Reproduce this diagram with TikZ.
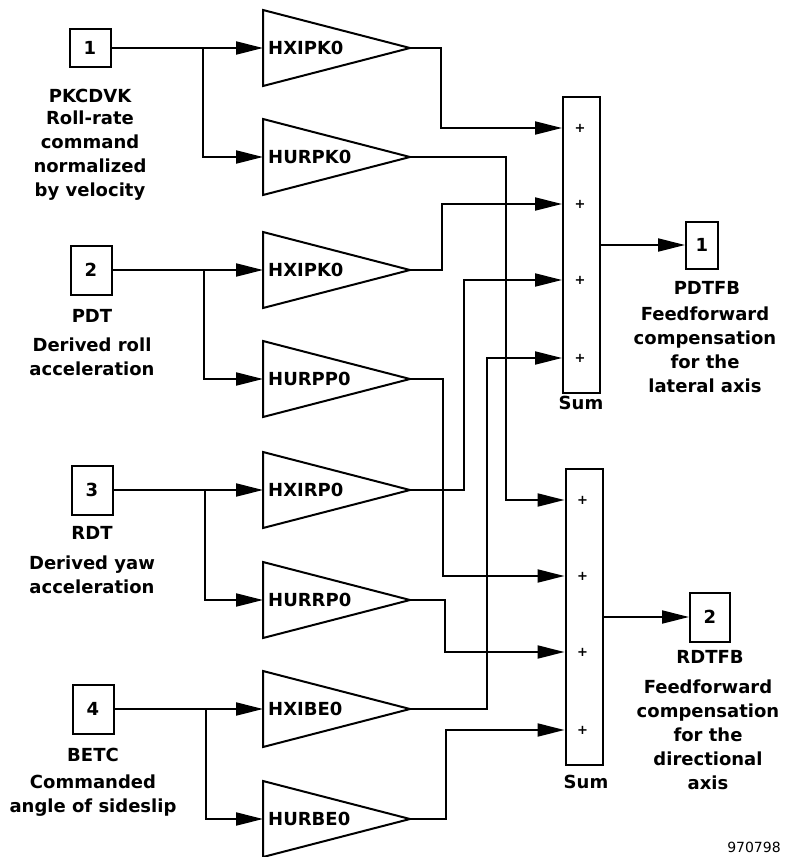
\documentclass[tikz,border=0pt]{standalone}
\usepackage{fontspec}
\setmainfont{DejaVu Sans}
\usetikzlibrary{positioning,arrows.meta}

\tikzset{
  wire/.style={line width=2pt},
  sig/.style={wire,-{Triangle[length=27pt,width=13pt]}},
  port/.style={draw,line width=2pt,inner sep=0pt,minimum width=41pt,minimum height=49pt,
    font=\fontsize{18}{20}\selectfont\bfseries},
  gain/.style={inner sep=0pt,outer sep=0pt,minimum width=147pt,minimum height=76pt,anchor=west},
  gaintext/.style={anchor=west,inner sep=0pt,font=\fontsize{18}{20}\selectfont\bfseries},
  sumbox/.style={draw,line width=2pt,inner sep=0pt,minimum width=37pt,minimum height=296pt},
  plus/.style={inner sep=0pt,font=\fontsize{13}{14}\selectfont\bfseries},
  portname/.style={inner sep=0pt,font=\fontsize{18}{20}\selectfont\bfseries},
  desc/.style={inner sep=0pt,align=center,font=\fontsize{18}{24}\selectfont\bfseries},
}

\begin{document}
\begin{tikzpicture}[x=1pt,y=-1pt]
  \useasboundingbox (0,0) rectangle (786,857);

  % inputs
  \node[port,minimum height=38pt] (in1) at (90,48) {1};
  \node[port] (in2) at (91,270) {2};
  \node[port] (in3) at (92,490) {3};
  \node[port] (in4) at (93,709) {4};

  \node[portname] (n1) at (90,96) {PKCDVK};
  \node[desc] (d1) at (90,156) {Roll-rate\\command\\normalized\\by velocity};
  \node[portname] (n2) at (92,316) {PDT};
  \node[desc] (d2) at (92,357) {Derived roll\\acceleration};
  \node[portname] (n3) at (92,533) {RDT};
  \node[desc] (d3) at (92,575) {Derived yaw\\acceleration};
  \node[portname] (n4) at (93,755) {BETC};
  \node[desc] (d4) at (93,796) {Commanded\\angle of sideslip};

  % gains
  \foreach \n/\y/\t in {1/48/HXIPK0,2/157/HURPK0,3/270/HXIPK0,4/379/HURPP0,
                        5/490/HXIRP0,6/600/HURRP0,7/709/HXIBE0,8/819/HURBE0}{
    \node[gain] (g\n) at (263,\y) {};
    \draw[wire] (g\n.north west) -- (g\n.east) -- (g\n.south west) -- cycle;
    \node[gaintext] (t\n) at ([xshift=5pt]g\n.west) {\t};
  }

  \foreach \i/\a/\b in {1/1/2,2/3/4,3/5/6,4/7/8}{
    \draw[sig] (in\i.east) -- (g\a.west);
    \draw[sig] (in\i.east) ++(91,0) |- (g\b.west);
  }

  % sums
  \node[sumbox] (s1) at (581.5,245) {};
  \node[sumbox] (s2) at (584,617) {};
  \foreach \s in {s1,s2}
    \foreach \k/\dy in {a/32,b/108,c/184,d/262}{
      \coordinate (\s\k) at ([yshift=-\dy pt]\s.north west);
      \node[plus] (p\s\k) at ([xshift=18pt]\s\k) {+};
    }
  \node[portname] (sum1) at (581,403) {Sum};
  \node[portname] (sum2) at (586,782) {Sum};

  \foreach \g/\d/\s in {g1/31/s1a,g3/32/s1b,g5/54/s1c,g7/77/s1d,
                        g2/96/s2a,g4/33/s2b,g6/35/s2c,g8/36/s2d}
    \draw[sig] (\g.east) -- ++(\d,0) |- (\s);

  % outputs
  \node[port,minimum width=32pt,minimum height=47pt] (o1) at (702,245) {1};
  \node[port,minimum width=40pt] (o2) at (710,617) {2};
  \draw[sig] (s1.east) -- (o1.west);
  \draw[sig] (s2.east) -- (o2.west);

  \node[portname] (m1) at (707,288) {PDTFB};
  \node[desc] (e1) at (705,350) {Feedforward\\compensation\\for the\\lateral axis};
  \node[portname] (m2) at (710,657) {RDTFB};
  \node[desc] (e2) at (708,735) {Feedforward\\compensation\\for the\\directional\\axis};

  \node[inner sep=0pt,font=\fontsize{14}{16}\selectfont] (fig) at (754,847) {970798};
\end{tikzpicture}
\end{document}
